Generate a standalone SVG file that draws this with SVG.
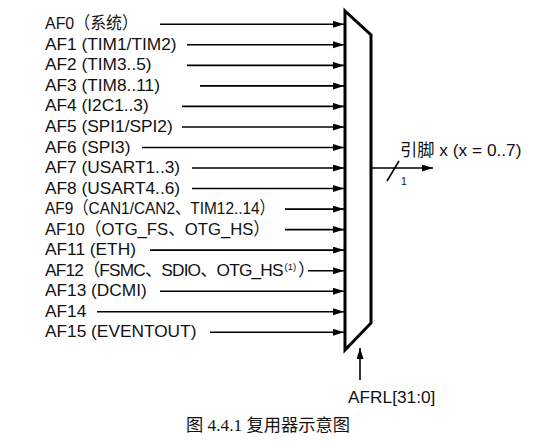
<svg xmlns="http://www.w3.org/2000/svg" width="550" height="443" viewBox="0 0 550 443">
<style>
.lbl{font-family:"Liberation Sans","Noto Sans CJK SC",sans-serif;font-size:17.3px;fill:#111}
.sm{font-family:"Liberation Sans",sans-serif;font-size:10.5px;fill:#111}
.sup{font-size:9.5px}
.cap{font-family:"Liberation Serif","Noto Sans CJK SC",serif;font-size:17px;fill:#111}
.ln{stroke:#000;stroke-width:1.6;fill:none}
</style>
<defs>
<marker id="ah" markerUnits="userSpaceOnUse" markerWidth="12" markerHeight="8" refX="11" refY="3.5" orient="auto">
<path d="M0,0 L11,3.5 L0,7 z" fill="#000"/>
</marker>
</defs>
<rect width="550" height="443" fill="#fff"/>
<g id="inputs">
<text class="lbl" x="45" y="29.3" textLength="93" lengthAdjust="spacingAndGlyphs">AF0（系统）</text>
<text class="lbl" x="45" y="49.8">AF1 (TIM1/TIM2)</text>
<text class="lbl" x="45" y="70.4">AF2 (TIM3..5)</text>
<text class="lbl" x="45" y="90.9">AF3 (TIM8..11)</text>
<text class="lbl" x="45" y="111.4">AF4 (I2C1..3)</text>
<text class="lbl" x="45" y="132">AF5 (SPI1/SPI2)</text>
<text class="lbl" x="45" y="152.5">AF6 (SPI3)</text>
<text class="lbl" x="45" y="173">AF7 (USART1..3)</text>
<text class="lbl" x="45" y="193.5">AF8 (USART4..6)</text>
<text class="lbl" x="45" y="214.1" textLength="230" lengthAdjust="spacingAndGlyphs">AF9（CAN1/CAN2、TIM12..14）</text>
<text class="lbl" x="45" y="234.6" textLength="225" lengthAdjust="spacingAndGlyphs">AF10（OTG_FS、OTG_HS）</text>
<text class="lbl" x="45" y="255.1">AF11 (ETH)</text>
<text class="lbl" x="45" y="275.7" letter-spacing="-0.85">AF12（FSMC、SDIO、OTG_HS<tspan class="sup" x="284.5" dy="-6" letter-spacing="0">(1)</tspan><tspan x="298" dy="6" letter-spacing="0">）</tspan></text>
<text class="lbl" x="45" y="296.2">AF13 (DCMI)</text>
<text class="lbl" x="45" y="316.7">AF14</text>
<text class="lbl" x="45" y="337.3">AF15 (EVENTOUT)</text>
</g>
<g id="connectors">
<line class="ln" x1="160" y1="24.3" x2="344" y2="24.3" marker-end="url(#ah)"/>
<line class="ln" x1="187" y1="44.8" x2="344" y2="44.8" marker-end="url(#ah)"/>
<line class="ln" x1="187" y1="65.4" x2="344" y2="65.4" marker-end="url(#ah)"/>
<line class="ln" x1="200" y1="85.9" x2="344" y2="85.9" marker-end="url(#ah)"/>
<line class="ln" x1="182" y1="106.4" x2="344" y2="106.4" marker-end="url(#ah)"/>
<line class="ln" x1="182" y1="127" x2="344" y2="127" marker-end="url(#ah)"/>
<line class="ln" x1="142" y1="147.5" x2="344" y2="147.5" marker-end="url(#ah)"/>
<line class="ln" x1="192" y1="168" x2="344" y2="168" marker-end="url(#ah)"/>
<line class="ln" x1="192" y1="188.5" x2="344" y2="188.5" marker-end="url(#ah)"/>
<line class="ln" x1="285" y1="209.1" x2="344" y2="209.1" marker-end="url(#ah)"/>
<line class="ln" x1="285" y1="229.6" x2="344" y2="229.6" marker-end="url(#ah)"/>
<line class="ln" x1="150" y1="250.1" x2="344" y2="250.1" marker-end="url(#ah)"/>
<line class="ln" x1="308" y1="270.7" x2="344" y2="270.7" marker-end="url(#ah)"/>
<line class="ln" x1="160" y1="291.2" x2="344" y2="291.2" marker-end="url(#ah)"/>
<line class="ln" x1="97" y1="311.7" x2="344" y2="311.7" marker-end="url(#ah)"/>
<line class="ln" x1="210" y1="332.3" x2="344" y2="332.3" marker-end="url(#ah)"/>
<line class="ln" x1="371" y1="168" x2="433" y2="168" marker-end="url(#ah)"/>
<line class="ln" x1="387" y1="181" x2="399" y2="161"/>
<line class="ln" x1="360" y1="380" x2="360" y2="348" marker-end="url(#ah)"/>
</g>
<g id="mux">
<polygon points="345,11 371,35 371,323 345,350" fill="#fff" stroke="#000" stroke-width="3" stroke-linejoin="miter"/>
</g>
<g id="output-label">
<text class="lbl" x="400" y="156">引脚 x (x = 0..7)</text>
<text class="sm" x="401" y="185">1</text>
</g>
<g id="select-label">
<text class="lbl" x="348" y="402.7">AFRL[31:0]</text>
</g>
<text class="cap" x="186" y="431" textLength="164" lengthAdjust="spacingAndGlyphs">图 4.4.1 复用器示意图</text>
</svg>
